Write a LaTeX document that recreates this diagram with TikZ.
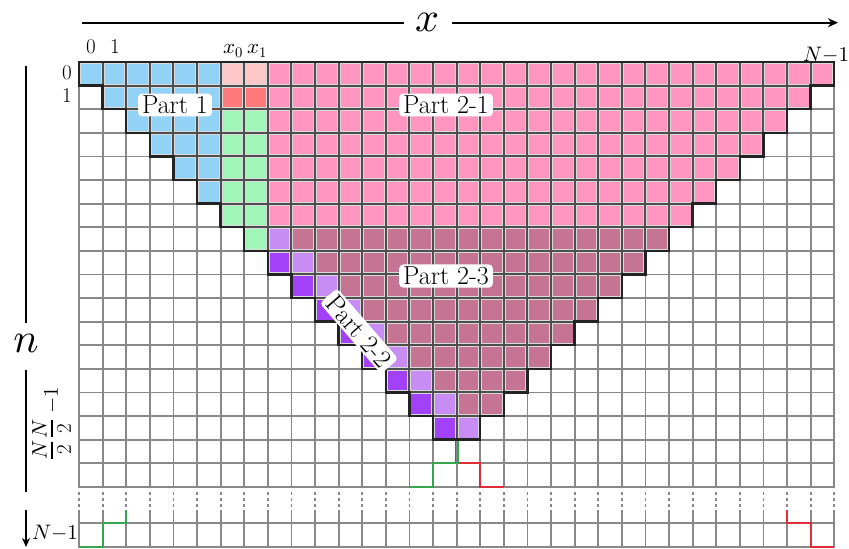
\documentclass[tikz,border=0pt]{standalone}
\usepackage{fix-cm}
\DeclareFontShape{OMS}{cmsy}{m}{n}{<->cmsy10}{}
\DeclareFontShape{OML}{cmm}{m}{it}{<->cmmi10}{}
\DeclareFontShape{OMX}{cmex}{m}{n}{<->cmex10}{}
\DeclareFontShape{OT1}{cmr}{m}{n}{<->cmr10}{}
\usetikzlibrary{arrows.meta}
\definecolor{cblue}{RGB}{146,210,247}
\definecolor{clpink}{RGB}{255,200,200}
\definecolor{cred}{RGB}{255,122,122}
\definecolor{cgreen}{RGB}{160,246,182}
\definecolor{cpink}{RGB}{255,150,192}
\definecolor{cmauve}{RGB}{198,116,148}
\definecolor{clpurple}{RGB}{200,140,245}
\definecolor{cdpurple}{RGB}{162,66,248}
\definecolor{gridgray}{RGB}{136,136,136}
\definecolor{celldark}{RGB}{78,78,78}
\definecolor{ringcol}{RGB}{218,218,218}
\definecolor{stepgreen}{RGB}{55,165,80}
\definecolor{stepred}{RGB}{222,45,55}
\definecolor{outlinecol}{RGB}{35,35,35}
\newcommand{\mycell}[3]{%
  \fill[celldark] (#1,#2) rectangle ++(1,1);
  \filldraw[fill=#3, draw=ringcol, line width=1pt]
    ([xshift=1.5pt,yshift=-1.5pt]#1,#2) rectangle ([xshift=-1.5pt,yshift=1.5pt]{#1+1},{#2+1});
}
\tikzset{
  gridline/.style={draw=gridgray, line width=1.8pt},
  axisline/.style={draw=black, line width=1.7pt},
  outline/.style={draw=outlinecol, line width=2.3pt, line join=miter},
  stepg/.style={draw=stepgreen, line width=1.9pt},
  stepr/.style={draw=stepred, line width=1.9pt},
  lab/.style={inner sep=0pt, font=\fontsize{21}{24}\selectfont},
  rlab/.style={inner sep=0pt, rotate=90, font=\fontsize{21}{24}\selectfont},
  fracbar/.style={draw=black, line width=1.1pt},
  biglab/.style={inner sep=0pt, font=\fontsize{42}{44}\selectfont},
  partlab/.style={fill=white, rounded corners=4pt, inner xsep=4pt, inner ysep=2.5pt, font=\fontsize{26}{28}\selectfont},
}
\begin{document}
\begin{tikzpicture}[x=1pt,y=-1pt]
\useasboundingbox (0,0) rectangle (849,549);
\begin{scope}[shift={(79pt,-62pt)}, x=23.6pt, y=-23.6pt]
  % base grid
  \foreach \i in {0,...,32} \draw[gridline, line cap=rect] (\i,0) -- (\i,18);
  \foreach \n in {0,...,18} \draw[gridline, line cap=rect] (0,\n) -- (32,\n);
  \foreach \i in {0,...,32} \draw[gridline, dash pattern=on 3pt off 3pt] (\i,18.22) -- (\i,18.95);
  \foreach \i in {0,...,32} \draw[gridline] (\i,19) -- (\i,20.55);
  \draw[gridline, line cap=rect] (0,19.55) -- (32,19.55);
  \draw[gridline, line cap=rect] (0,20.55) -- (32,20.55);
  % Part 1 (blue)
  \foreach \n in {0,...,5} \foreach \i in {\n,...,5} { \mycell{\i}{\n}{cblue} }
  % x0, x1 columns
  \mycell{6}{0}{clpink} \mycell{7}{0}{clpink}
  \mycell{6}{1}{cred} \mycell{7}{1}{cred}
  \foreach \n in {2,...,6} { \mycell{6}{\n}{cgreen} \mycell{7}{\n}{cgreen} }
  \mycell{7}{7}{cgreen}
  % Part 2-1 (pink)
  \foreach \n [evaluate=\n as \b using int(31-\n)] in {0,...,6}
    \foreach \i in {8,...,\b} { \mycell{\i}{\n}{cpink} }
  % Part 2-2 (purple)
  \foreach \n [evaluate=\n as \a using int(\n+1)] in {7,...,15} { \mycell{\a}{\n}{clpurple} }
  \foreach \n in {8,...,15} { \mycell{\n}{\n}{cdpurple} }
  % Part 2-3 (mauve)
  \foreach \n [evaluate=\n as \a using int(\n+2), evaluate=\n as \b using int(31-\n)] in {7,...,14}
    \foreach \i in {\a,...,\b} { \mycell{\i}{\n}{cmauve} }
  % outline of the triangle
  \draw[outline] (0,0) -- (32,0)
    foreach \k in {0,...,15} { -- ({32-\k},{\k+1}) -- ({31-\k},{\k+1}) }
    foreach \k in {15,...,0} { -- (\k,{\k+1}) -- (\k,\k) } -- cycle;
  % step lines
  \coordinate (gs) at ([xshift=1.1pt]16,16.05);
  \coordinate (rs) at ([xshift=-1.1pt]16,16.05);
  \draw[stepr] (rs) -- ([xshift=-1.1pt]16,17) -- (17,17) -- (17,18) -- (18,18);
  \draw[stepg] (gs) -- ([xshift=1.1pt]16,17) -- (15,17) -- (15,18) -- (14,18);
  \draw[stepg] (0,20.55) -- (1,20.55) -- (1,19.55) -- (2,19.55) -- (2,19);
  \draw[stepr] (32,20.55) -- (31,20.55) -- (31,19.55) -- (30,19.55) -- (30,19);
\end{scope}
% part labels
\node[partlab] (p1) at (175,105) {Part 1};
\node[partlab] (p21) at (446,105) {Part 2-1};
\node[partlab] (p23) at (446,276) {Part 2-3};
\node[partlab, rotate=-49] (p22) at (359,331) {Part 2-2};
% x axis
\node[biglab] (xl) at (427,22) {$x$};
\coordinate (xa) at (82,22.7);
\coordinate (xb) at (838,22.7);
\coordinate (xg1) at (404,22.7);
\coordinate (xg2) at (452,22.7);
\draw[axisline] (xa) -- (xg1);
\draw[axisline, -{Stealth[length=10pt,width=9pt]}] (xg2) -- (xb);
% n axis
\node[biglab] (nl) at (26,343) {$n$};
\coordinate (ya) at (26,66);
\coordinate (yb) at (26,323);
\coordinate (yc) at (26,370);
\coordinate (yd) at (26,492);
\coordinate (ye) at (26,510);
\coordinate (yf) at (26,547);
\draw[axisline] (ya) -- (yb);
\draw[axisline] (yc) -- (yd);
\draw[axisline, -{Stealth[length=9pt,width=8pt]}] (ye) -- (yf);
% column labels
\node[lab] (c0) at (91,47) {0};
\node[lab] (c1) at (115,47) {1};
\node[lab] (cx0) at (233,51) {$x_0$};
\node[lab] (cx1) at (257,51) {$x_1$};
\node[lab] (cN) at (826,55) {$N{-}1$};
% row labels
\node[lab] (r0) at (67,73) {0};
\node[lab] (r1) at (67,96) {1};
% rotated fraction labels N/2 - 1 and N/2
\node[rlab] (hn1) at (39.5,428.5) {$N$};
\node[rlab] (hd1) at (64,428.5) {2};
\coordinate (hb1a) at (52,420);
\coordinate (hb1b) at (52,437);
\draw[fracbar] (hb1a) -- (hb1b);
\node[rlab] (hm1) at (52,400) {${-}1$};
\node[rlab] (hn2) at (39.5,450) {$N$};
\node[rlab] (hd2) at (64,450) {2};
\coordinate (hb2a) at (52,441.5);
\coordinate (hb2b) at (52,458.5);
\draw[fracbar] (hb2a) -- (hb2b);
\node[lab] (rN) at (55,533) {$N{-}1$};
\end{tikzpicture}
\end{document}
